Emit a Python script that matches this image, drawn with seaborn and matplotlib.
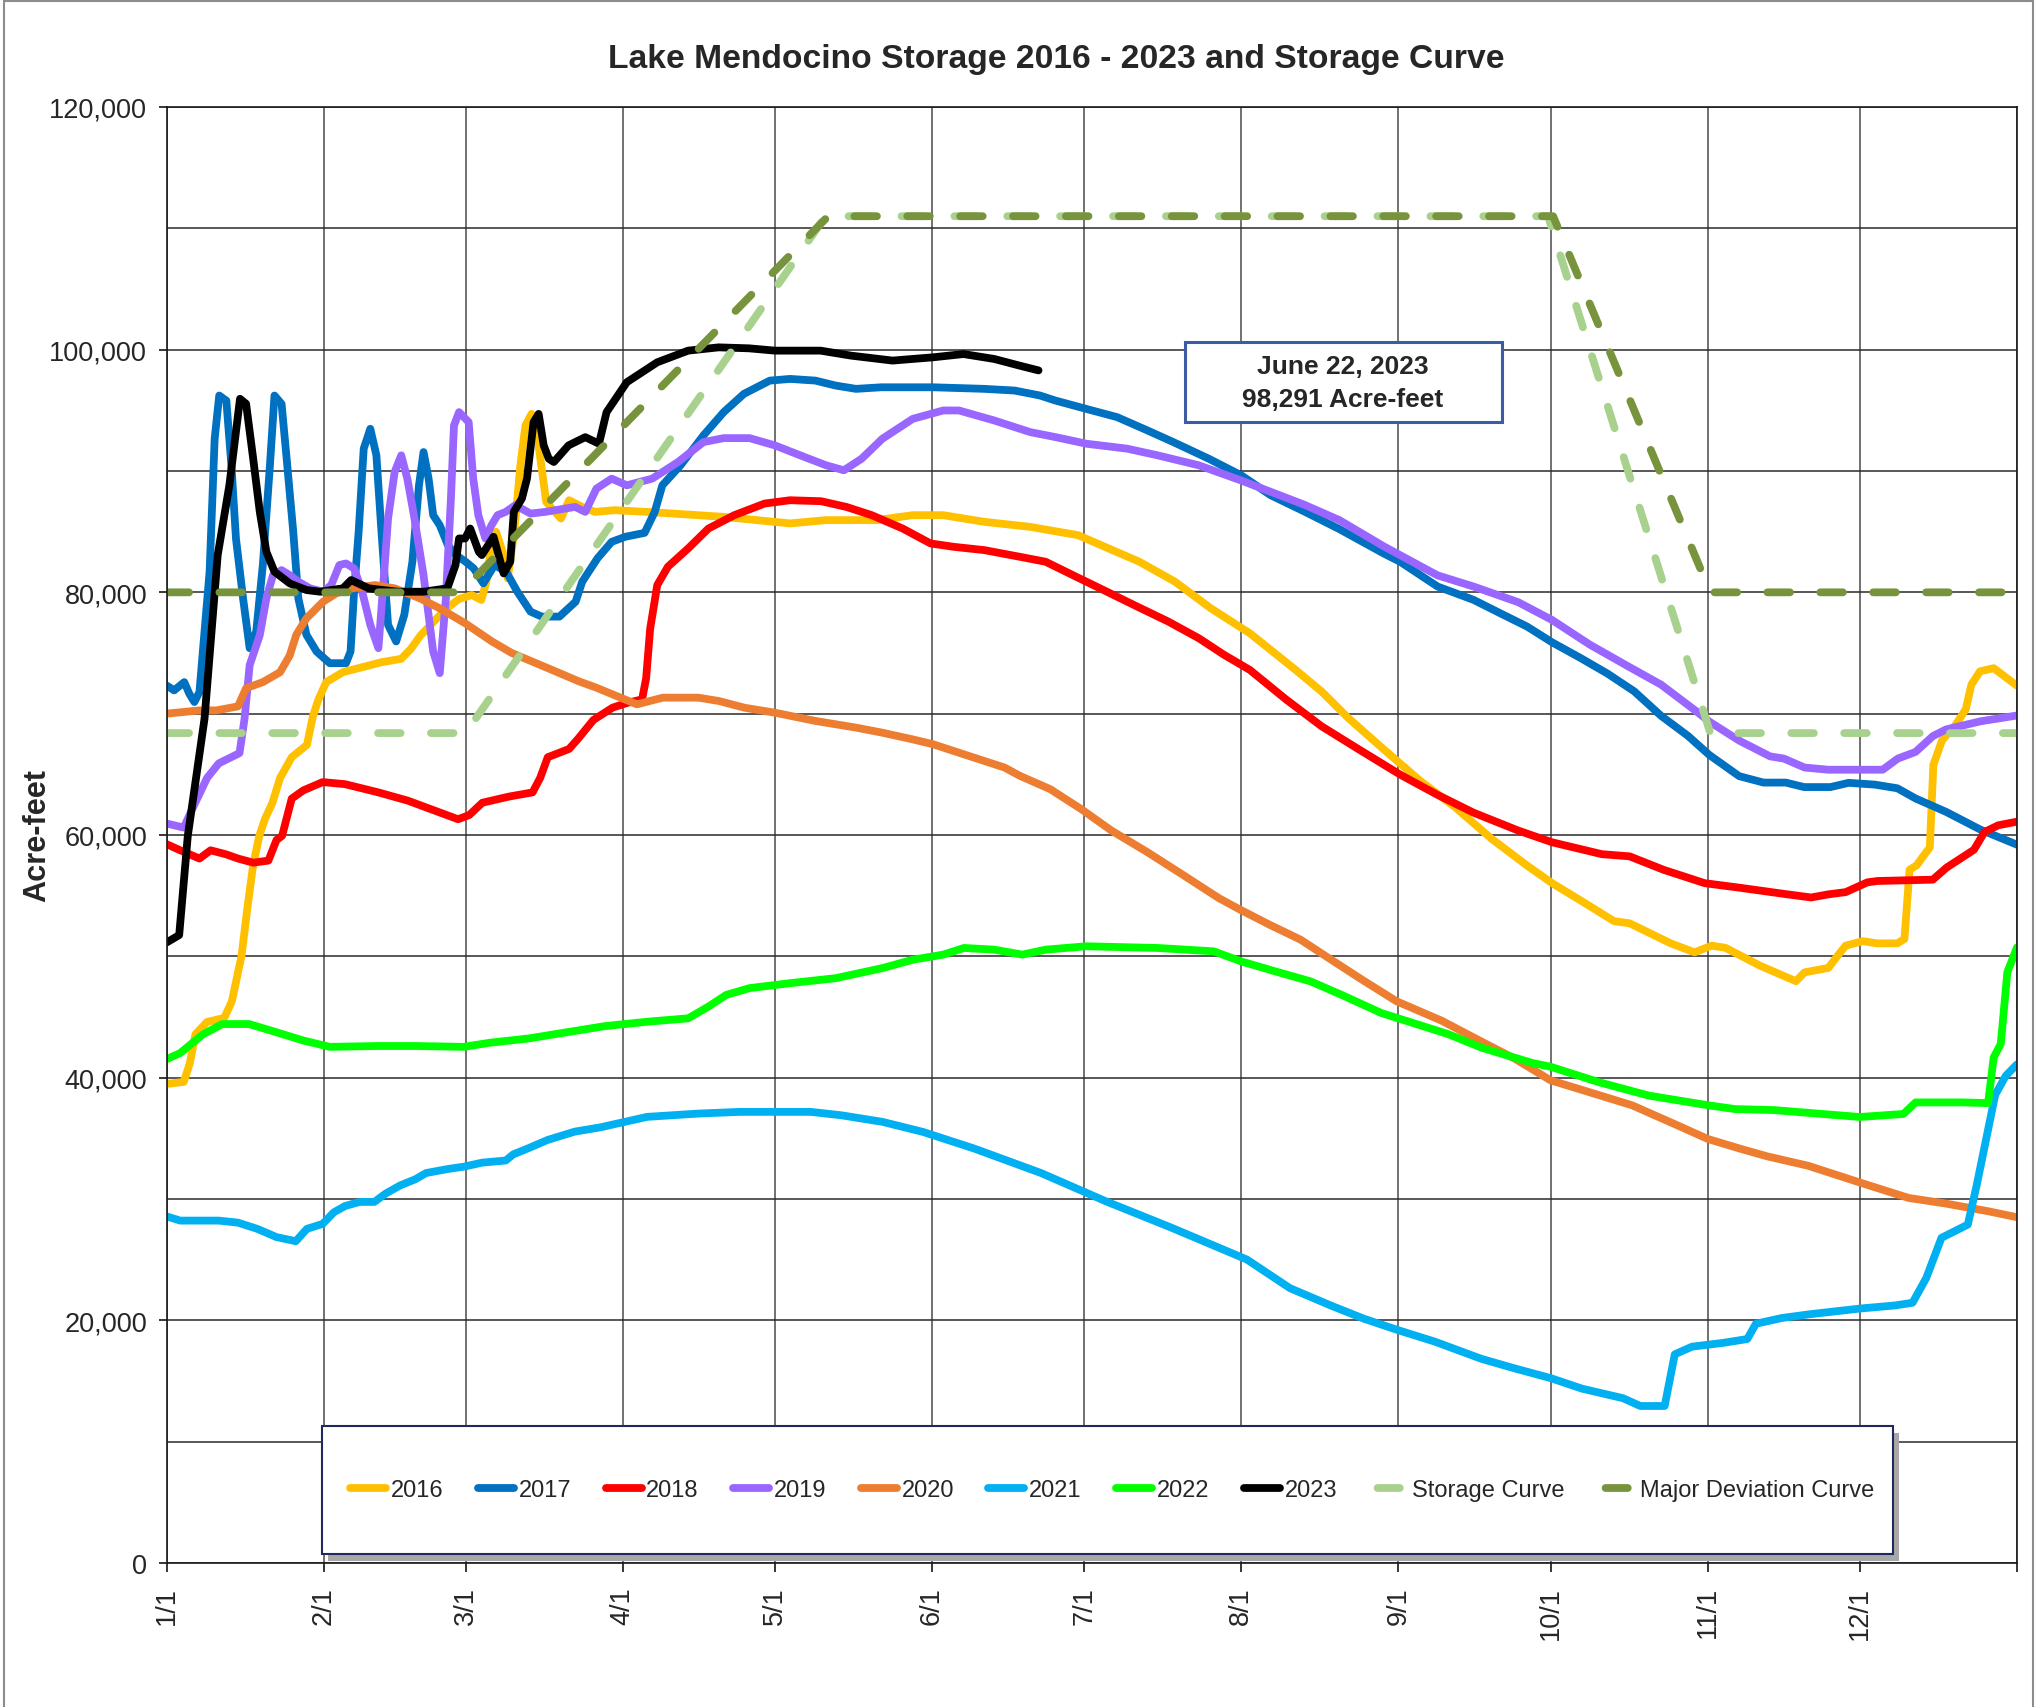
import numpy as np
import matplotlib
matplotlib.use("Agg")
import matplotlib.pyplot as plt
import matplotlib.ticker as ticker
import seaborn as sns
from matplotlib import font_manager
from matplotlib.lines import Line2D
from matplotlib.patches import Rectangle

# ── DATA (day of year, 0 = 1/1; values in acre-feet) ─────────────────────────
d2016 = [0, 3.4, 4.6, 5.7, 8, 11.4, 12.9, 14.8, 16, 17.1, 18.3, 19.4, 20.9, 22.4, 24.7, 27.7, 28.9, 30,
         31.5, 34.8, 38.6, 42.4, 46.3, 48.2, 50.1, 52.6, 55.1, 57.7, 60.2, 62.1, 63.1, 64, 65, 66.3, 67.3,
         68.6, 69.8, 70.8, 72, 73.3, 74.9, 77.8, 79.4, 82, 84.5, 88.4, 94.8, 109.9, 123, 130, 140.1, 147.2,
         153.2, 161.3, 170.3, 179.8, 185.8, 191.9, 198.9, 206, 213.7, 222.5, 227.8, 233.1, 240.1, 247.2,
         254.2, 261.3, 268.3, 273.3, 279.8, 285.5, 288.6, 291.3, 296.7, 301.4, 304.8, 307.5, 314.3, 321.4,
         323.1, 327.8, 329.8, 331.2, 334.6, 337.4, 341.4, 342.8, 343.8, 345.2, 346.8, 347.8, 348.5, 350.2,
         352.9, 354.9, 356, 357.7, 360.4, 362.4, 365]
v2016 = [39480, 39650, 41180, 43570, 44590, 44930, 46300, 50050, 54140, 57550, 59930, 61300, 62660, 64700,
         66410, 67430, 69820, 71200, 72600, 73420, 73830, 74240, 74520, 75340, 76440, 77540, 78630, 79450,
         79780, 79370, 80880, 83610, 84990, 83340, 81150, 84990, 90470, 93750, 94710, 92380, 87450, 86080,
         87590, 87040, 86630, 86770, 86630, 86220, 85680, 85950, 85950, 86360, 86360, 85810, 85400, 84710,
         83620, 82520, 80880, 78680, 76620, 73680, 71840, 69640, 67060, 64490, 62280, 59710, 57500, 56030,
         54380, 52900, 52720, 52170, 51070, 50330, 50880, 50700, 49230, 47950, 48680, 49050, 50150, 50880,
         51250, 51070, 51070, 51430, 57130, 57500, 58420, 58970, 65770, 67790, 69080, 70370, 72390, 73490,
         73750, 73120, 72300]

d2017 = [0, 1.5, 3.5, 4.5, 5.5, 6.5, 7.5, 8.5, 9.5, 10.4, 11.8, 12.8, 13.7, 15.1, 16.4, 17.7, 19, 20.4,
         21.3, 22.7, 23.7, 25, 26, 27.6, 29.6, 32.2, 35.4, 36.3, 37, 37.9, 38.9, 40.2, 41.4, 42.4, 43.7,
         45.3, 46.9, 48.5, 49.8, 50.7, 51.7, 52.6, 53.9, 55.5, 57.1, 59, 60.6, 62.5, 64.7, 67, 69.2, 71.8,
         74, 77.5, 80.7, 82, 85, 87.8, 90.5, 94.3, 96.3, 97.8, 101.4, 105.9, 109.9, 113.9, 119, 123, 128,
         132, 136, 141, 151.2, 161.3, 167.3, 172.3, 175.3, 181.4, 187.5, 193.5, 198.6, 205.6, 212, 217.8,
         224.3, 231.3, 240.1, 243.4, 250.7, 257.8, 263.1, 268.4, 273.3, 278.9, 284.2, 289.5, 294.8, 300.1,
         304.3, 310.2, 315, 319.4, 323, 328.2, 331.8, 337, 341.4, 345, 351, 357.8, 365]
v2017 = [72330, 71920, 72600, 71640, 70960, 71780, 76770, 81700, 92660, 96220, 95800, 90470, 84440, 79510,
         75400, 76770, 82250, 90470, 96220, 95530, 91010, 85000, 79510, 76500, 75120, 74160, 74160, 75120,
         80050, 85000, 91840, 93480, 91290, 85000, 77320, 75950, 78140, 82520, 88820, 91560, 89370, 86360,
         85530, 83890, 83070, 82520, 81970, 80740, 82250, 81700, 80050, 78410, 78000, 78000, 79230, 80880,
         82800, 84160, 84580, 84900, 86630, 88820, 90470, 92930, 94850, 96360, 97450, 97590, 97450, 97040,
         96770, 96900, 96900, 96770, 96630, 96220, 95810, 95120, 94440, 93340, 92380, 91010, 89640, 88000,
         86690, 85220, 83200, 82500, 80480, 79380, 78270, 77170, 75880, 74590, 73310, 71840, 69820, 68170,
         66600, 64850, 64320, 64320, 63950, 63950, 64300, 64150, 63850, 63010, 61910, 60440, 59200]

d2018 = [0, 2.7, 6.5, 8.7, 11.8, 14.1, 17.1, 20.1, 21.7, 22.8, 24.7, 27, 30.8, 35.2, 41.8, 47.6, 52, 57.5,
         59.7, 62.3, 67.6, 72.2, 73.7, 75.2, 79.4, 81.2, 84.2, 88, 91, 93.8, 94.6, 95.4, 96.8, 98.9, 102.9,
         106.9, 112, 118, 123, 129.1, 134.1, 139.1, 145.2, 150.7, 155.3, 161.3, 168.3, 173.4, 179.4, 185.5,
         191.5, 197.6, 203.6, 208.6, 213.7, 220.8, 227.8, 234.9, 243.4, 250.7, 257.8, 266.6, 273.3, 283.1,
         288.6, 295.3, 303.4, 310.2, 319.7, 324.4, 327.8, 331.2, 335.5, 337.5, 348.4, 351.1, 356.5, 358.6,
         361.3, 365]
v2018 = [59250, 58740, 58060, 58740, 58400, 58060, 57720, 57890, 59590, 59930, 63000, 63680, 64360, 64190,
         63510, 62830, 62150, 61300, 61640, 62660, 63170, 63510, 64700, 66410, 67090, 67940, 69480, 70500,
         70900, 71180, 72900, 77000, 80600, 82110, 83620, 85260, 86360, 87320, 87590, 87510, 87040, 86360,
         85260, 84030, 83750, 83480, 82930, 82520, 81290, 80050, 78820, 77590, 76220, 74850, 73600, 71180,
         68970, 67130, 64960, 63310, 61840, 60370, 59400, 58420, 58240, 57130, 56030, 55660, 55110, 54850,
         55110, 55290, 56100, 56210, 56320, 57310, 58780, 60250, 60800, 61100]

d2019 = [0, 3.4, 4.9, 8, 10.3, 14.4, 15.4, 16.4, 18.4, 19.7, 21, 22.7, 24.3, 26, 28.3, 30.9, 32.5, 34.1,
         35.4, 37, 38.6, 40.2, 41.8, 42.8, 43.7, 45, 46.3, 47.5, 48.8, 50.7, 52.6, 53.9, 55.1, 56.1, 56.7,
         57.7, 59.6, 60.5, 61.5, 62.9, 64.1, 65.3, 66.9, 68.8, 71.8, 74.7, 80.6, 82.6, 84.8, 87.8, 90.8,
         95.8, 100.9, 105.9, 109.9, 115, 120, 125, 130.1, 133.6, 137.1, 141.2, 147.2, 153.2, 156.3, 163.3,
         170.4, 175.4, 181.4, 189.5, 195.5, 203.6, 211.9, 224.3, 231.3, 240.1, 250.7, 257.8, 266.6, 273.3,
         280.7, 287.7, 294.8, 301.8, 304.3, 310.2, 316.3, 319, 323.1, 327.8, 338.5, 341.5, 345, 348.4, 351,
         357.8, 365]
v2019 = [60950, 60610, 61980, 64700, 65900, 66750, 69600, 74000, 76470, 79500, 81420, 81830, 81420, 80880,
         80330, 80050, 80600, 82250, 82380, 81970, 80050, 77320, 75400, 80880, 86080, 89920, 91290, 89370,
         86360, 81420, 75120, 73340, 79500, 87730, 93750, 94850, 94030, 89370, 86360, 84440, 85530, 86360,
         86630, 87180, 86490, 86630, 87040, 86630, 88550, 89370, 88820, 89370, 90740, 92380, 92710, 92710,
         92110, 91290, 90470, 90060, 91010, 92660, 94300, 94990, 94990, 94160, 93200, 92790, 92250, 91840,
         91290, 90470, 89230, 87240, 85960, 83790, 81400, 80480, 79190, 77720, 75700, 74040, 72390, 70180,
         69350, 67780, 66480, 66300, 65560, 65380, 65380, 66300, 66850, 68150, 68700, 69370, 69850]

d2020 = [0, 6.5, 9.8, 14.1, 15.7, 19, 22.4, 24.3, 25.6, 27.6, 30.9, 33.5, 36.7, 41.1, 45, 50, 53.9, 58.9,
         64.2, 68.1, 72.1, 76.7, 81.3, 84.8, 88.8, 92.8, 97.9, 104.9, 109, 114, 120, 128, 136, 141.1, 147.1,
         151.2, 157.2, 165.3, 168.3, 174.3, 180.4, 186.4, 193.5, 200.5, 207.6, 211.8, 217.6, 223.7, 229.7,
         235.8, 242.6, 251.5, 259.4, 266, 273, 279.2, 289.1, 297.6, 304, 310.2, 315.6, 323.8, 334, 343.6,
         351, 359.2, 365]
v2020 = [70000, 70270, 70270, 70600, 72100, 72600, 73420, 74790, 76500, 77860, 79230, 79920, 80330, 80600,
         80330, 79500, 78680, 77450, 75950, 75000, 74300, 73490, 72670, 72140, 71450, 70770, 71320, 71320,
         71040, 70490, 70080, 69400, 68850, 68440, 67890, 67480, 66660, 65560, 64880, 63780, 62140, 60360,
         58580, 56710, 54790, 53840, 52600, 51370, 49730, 48080, 46300, 44700, 42970, 41550, 39780, 38990,
         37720, 36150, 34950, 34170, 33530, 32740, 31360, 30090, 29620, 29000, 28500]

d2021 = [0, 2.7, 10.3, 14.1, 17.9, 21.7, 25.5, 27.7, 30.8, 33, 35.2, 38.1, 41, 43.2, 46.1, 49.1, 51.2,
         55.6, 58.6, 62.3, 66.9, 68.4, 71.4, 75.2, 80.5, 85.5, 94.8, 104.9, 113, 127.1, 133.1, 141.2, 149.2,
         159.3, 172.5, 185.4, 198.2, 213.1, 221.6, 229.6, 236.2, 243, 250.2, 259.4, 266, 273, 279.2, 287.3,
         290.7, 295.5, 297.5, 300.9, 307, 311.8, 313.5, 318.6, 324.1, 334, 341, 344.4, 347.1, 350.1, 355.3,
         357, 358.7, 360.7, 362.8, 365]
v2021 = [28570, 28220, 28220, 28050, 27540, 26860, 26520, 27540, 27950, 28900, 29420, 29760, 29760, 30440,
         31120, 31630, 32140, 32480, 32660, 33000, 33170, 33680, 34190, 34870, 35550, 35900, 36770, 37040,
         37180, 37180, 36900, 36360, 35530, 34160, 32140, 29790, 27640, 25010, 22650, 21230, 20130, 19180,
         18240, 16820, 16030, 15240, 14370, 13580, 12940, 12940, 17200, 17830, 18140, 18460, 19720, 20190,
         20500, 20970, 21230, 21450, 23490, 26800, 27890, 31040, 34500, 38590, 40160, 41100]

d2022 = [0, 2.7, 7.2, 11, 16.3, 21.7, 27, 32.2, 41.7, 49.1, 58.6, 63.8, 71.4, 78.9, 86.5, 94.8, 102.9, 106.9,
         110.4, 115, 123, 132, 141.2, 147.2, 153.2, 157.3, 163.3, 168.8, 173.4, 181.4, 195.5, 206.6, 211.9,
         218.7, 225.7, 231.8, 239.6, 252.8, 259.4, 269.4, 273, 282.6, 292.4, 304, 309.4, 317, 334, 342.6,
         345, 354.5, 359.3, 360.4, 361.8, 363.1, 365]
v2022 = [41520, 42030, 43570, 44420, 44420, 43740, 43060, 42540, 42610, 42610, 42540, 42880, 43230, 43740,
         44250, 44610, 44890, 45860, 46820, 47380, 47790, 48200, 49030, 49720, 50140, 50690, 50550, 50140,
         50550, 50830, 50690, 50410, 49590, 48760, 47930, 46820, 45330, 43590, 42470, 41210, 40900, 39620,
         38520, 37730, 37410, 37330, 36760, 37010, 37960, 37960, 37900, 41670, 42780, 48700, 50740]

d2023 = [0, 2.5, 4.2, 7.5, 10.1, 12.4, 14.5, 15.7, 17.1, 18.4, 19.7, 21.3, 24.3, 27.6, 30.3, 34.8, 36.4,
         39.9, 45.6, 50.7, 55.4, 57, 57.7, 58.9, 59.9, 61.6, 62.2, 64.5, 66.5, 67.8, 68.5, 70.1, 71.1, 72.4,
         73.4, 74.4, 75.4, 76.4, 79.3, 82.6, 85.3, 86.8, 90.8, 96.8, 102.9, 108.9, 114.9, 120, 129, 135,
         143.2, 151.2, 157.2, 163.3, 168.3, 172]
v2023 = [51135, 51750, 59930, 69590, 83070, 88820, 95950, 95540, 91010, 86630, 83340, 81700, 80740, 80190,
         80050, 80330, 81010, 80330, 80050, 80050, 80330, 82250, 84440, 84440, 85260, 83340, 83070, 84580,
         81560, 82520, 86630, 87730, 89370, 94030, 94710, 92110, 91010, 90740, 92110, 92790, 92250, 94850,
         97320, 98960, 99920, 100190, 100110, 99920, 99920, 99510, 99100, 99370, 99640, 99230, 98680, 98291]

d_storage = [0, 59, 130, 272.5, 304.5, 365]
v_storage = [68400, 68400, 111000, 111000, 68400, 68400]
d_major = [0, 58, 130.5, 273.5, 304.5, 365]
v_major = [80000, 80000, 111000, 111000, 80000, 80000]

month_days = [0, 31, 59, 90, 120, 151, 181, 212, 243, 273, 304, 334, 365]
month_labels = ["1/1", "2/1", "3/1", "4/1", "5/1", "6/1", "7/1", "8/1", "9/1", "10/1", "11/1", "12/1", ""]

years = ["2016", "2017", "2018", "2019", "2020", "2021", "2022", "2023"]
year_days = [d2016, d2017, d2018, d2019, d2020, d2021, d2022, d2023]
year_vals = [v2016, v2017, v2018, v2019, v2020, v2021, v2022, v2023]
year_colors = ["#FFC000", "#0070C0", "#FF0000", "#9966FF", "#ED7D31", "#00B0F0", "#00FF00", "#000000"]
LIGHT_GREEN = "#A9D18E"
DARK_GREEN = "#77933C"

# ── STYLE / FONTS ────────────────────────────────────────────────────────────
sns.set_style("white")
names = {f.name for f in font_manager.fontManager.ttflist}
NARROW = "Liberation Sans Narrow" in names
plt.rcParams["font.family"] = [("Liberation Sans Narrow" if NARROW else "Liberation Sans"), "DejaVu Sans"]
k = 1.0 if NARROW else 0.85
W, H = 2039, 1708

fig = plt.figure(figsize=(W / 100, H / 100), dpi=100)
fig.patch.set_facecolor("white")
ax = fig.add_axes([166.5 / W, 1 - 1564 / H, (2017 - 166.5) / W, (1564 - 108) / H])

LW = 5.6
for lab, dd, vv, c in zip(years, year_days, year_vals, year_colors):
    sns.lineplot(x=dd, y=vv, ax=ax, color=c, lw=LW, estimator=None, sort=False, legend=False)
    ln = ax.lines[-1]
    ln.set_solid_capstyle("round")
    ln.set_solid_joinstyle("round")

DASH = (0, (2.9, 3.9))
for dd, vv, c in [(d_storage, v_storage, LIGHT_GREEN), (d_major, v_major, DARK_GREEN)]:
    sns.lineplot(x=dd, y=vv, ax=ax, color=c, lw=LW, estimator=None, sort=False, legend=False)
    ln = ax.lines[-1]
    ln.set_linestyle(DASH)
    ln.set_dash_capstyle("round")

ax.set_xlim(0, 365)
ax.set_ylim(0, 120000)
ax.set_xticks(month_days)
ax.set_xticklabels(month_labels, rotation=90, fontsize=23 * k)
ax.set_yticks(np.arange(0, 120001, 20000))
ax.yaxis.set_minor_locator(ticker.MultipleLocator(10000))
ax.yaxis.set_major_formatter(ticker.FuncFormatter(lambda v, p: f"{int(v):,}"))
ax.tick_params(axis="y", which="major", labelsize=23 * k, length=6, width=1.1, direction="out", pad=8,
               left=True, color="black")
ax.tick_params(axis="y", which="minor", length=0)
ax.tick_params(axis="x", which="major", length=6.5, width=1.1, direction="out", pad=10, bottom=True,
               color="black")
ax.set_axisbelow(True)
ax.grid(axis="y", which="both", color="#2a2a2a", lw=1.1)
ax.grid(axis="x", which="major", color="#4a4a4a", lw=1.1)
for s in ax.spines.values():
    s.set_visible(True)
    s.set_color("#1a1a1a")
    s.set_linewidth(1.2)
ax.set_xlabel("")
ax.set_ylabel("")

# ── TEXT ─────────────────────────────────────────────────────────────────────
fig.text(1056 / W, 1 - 68 / H, "Lake Mendocino Storage 2016 - 2023 and Storage Curve",
         ha="center", va="baseline", fontsize=28.5 * k, fontweight="bold")
fig.text(37 / W, 1 - 835 / H, "Acre-feet", rotation=90, ha="center", va="center",
         fontsize=26 * k, fontweight="bold")

# annotation box
fig.add_artist(Rectangle((1185 / W, 1 - 423 / H), (1502 - 1185) / W, 80 / H, transform=fig.transFigure,
                         facecolor="white", edgecolor="#3B5BA5", lw=2.2, zorder=5))
fig.text(1343 / W, 1 - 374 / H, "June 22, 2023", ha="center", va="baseline", fontsize=19,
         fontweight="bold", family=["Liberation Sans", "DejaVu Sans"], zorder=6)
fig.text(1343 / W, 1 - 407 / H, "98,291 Acre-feet", ha="center", va="baseline", fontsize=19,
         fontweight="bold", family=["Liberation Sans", "DejaVu Sans"], zorder=6)

# legend frame with shadow
lx0, lx1, ly0, ly1 = 322, 1893, 1427, 1555
fig.add_artist(Rectangle(((lx0 + 6) / W, 1 - (ly1 + 7) / H), (lx1 - lx0) / W, (ly1 - ly0) / H,
                         transform=fig.transFigure, facecolor="#a8a8a8", edgecolor="none", zorder=5))
fig.add_artist(Rectangle((lx0 / W, 1 - ly1 / H), (lx1 - lx0) / W, (ly1 - ly0) / H,
                         transform=fig.transFigure, facecolor="white", edgecolor="#1F2A5C", lw=1.5, zorder=6))

handles = [Line2D([], [], color=c, lw=LW, solid_capstyle="round") for c in year_colors]
for c in [LIGHT_GREEN, DARK_GREEN]:
    handles.append(Line2D([], [], color=c, lw=LW, linestyle=(7.2, (2.85, 5.2)), dash_capstyle="round"))
labels = years + ["Storage Curve", "Major Deviation Curve"]
leg_fs = 20 * k
leg = fig.legend(handles, labels, loc="center", ncol=10, mode="expand", frameon=False,
                 bbox_to_anchor=(350 / W, 1 - ly1 / H, (1874 - 350) / W, (ly1 - ly0) / H),
                 fontsize=leg_fs, handlelength=36 / (leg_fs * 100 / 72), handletextpad=0.2,
                 borderpad=0, borderaxespad=0)
leg.set_zorder(7)

# outer chart border
fig.add_artist(Rectangle((4 / W, -0.01), 2029 / W, 1.01 - 2 / H, transform=fig.transFigure,
                         fill=False, edgecolor="#8c8c8c", lw=1.5, zorder=8))

fig.savefig("out.png", dpi=100, facecolor="white")
